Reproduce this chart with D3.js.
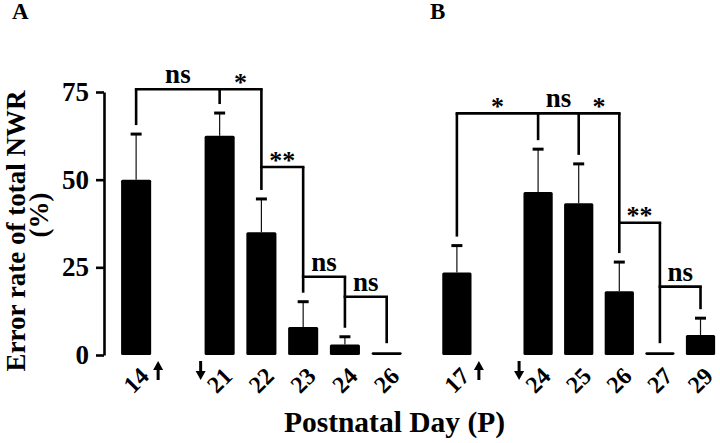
<!DOCTYPE html>
<html>
<head>
<meta charset="utf-8">
<script src="https://cdn.jsdelivr.net/npm/d3@7"></script>
<style>
  body { margin: 0; background: #fff; }
  svg text { font-family: "Liberation Serif", "Times New Roman", serif; font-weight: bold; fill: #000; }
</style>
</head>
<body>
<svg id="chart"></svg>
<script>
// panel A: pups tested from P14 (arrow = cage change)
const daysA = ["14", "21", "22", "23", "24", "26"];
const meansA = [50, 62.5, 35, 8, 3, 0.8];
const semsA = [13, 6.5, 9.5, 7.2, 2.2, 0];
const compsA = [
  { from: "14", to: "21", level: 75.8, label: "ns" },
  { from: "21", to: "22", level: 75.8, label: "*" },
  { from: "22", to: "23", level: 53.6, label: "**" },
  { from: "23", to: "24", level: 22.3, label: "ns" },
  { from: "24", to: "26", level: 16.6, label: "ns" }
];

// panel B
const daysB = ["17", "24", "25", "26", "27", "29"];
const meansB = [23.5, 46.5, 43.3, 18.2, 0.8, 5.7];
const semsB = [7.7, 12.2, 11.2, 8.3, 0, 4.8];
const compsB = [
  { from: "17", to: "24", level: 68.9, label: "*" },
  { from: "24", to: "25", level: 68.9, label: "ns" },
  { from: "25", to: "26", level: 68.9, label: "*" },
  { from: "26", to: "27", level: 37.7, label: "**" },
  { from: "27", to: "29", level: 19.5, label: "ns" }
];

const yTicks = [0, 25, 50, 75];

const width = 720;
const height = 443;
const svg = d3.select("#chart").attr("width", width).attr("height", height);

const y = d3.scaleLinear().domain([0, 75]).range([355, 92]);

function bandFor(days, range) {
  // one empty slot between the first day and the rest
  return d3.scaleBand().domain([days[0], "gap", ...days.slice(1)]).range(range).padding(0.28);
}

const xA = bandFor(daysA, [109.4, 413.4]);
const xB = bandFor(daysB, [430.9, 726.5]);

function arrow(g, x, up) {
  const top = 361, bottom = 380;
  const tip = up ? top : bottom;
  const dir = up ? 1 : -1;
  g.append("line")
    .attr("x1", x).attr("x2", x)
    .attr("y1", up ? top + 6 : top).attr("y2", up ? bottom : bottom - 6)
    .attr("stroke", "#000").attr("stroke-width", 3);
  g.append("path")
    .attr("d", `M${x},${tip}L${x - 5},${tip + dir * 9}L${x + 5},${tip + dir * 9}Z`)
    .attr("fill", "#000");
}

function drawPanel(x, days, means, sems, comps) {
  const g = svg.append("g");
  const cx = (d) => x(d) + x.bandwidth() / 2;
  const rows = days.map((d, i) => ({ day: d, mean: means[i], top: means[i] + sems[i] }));

  g.selectAll("rect.bar")
    .data(rows)
    .join("rect")
    .attr("class", "bar")
    .attr("x", (d) => x(d.day))
    .attr("y", (d) => y(d.mean))
    .attr("width", x.bandwidth())
    .attr("height", (d) => y(0) - y(d.mean))
    .attr("rx", 1.5)
    .attr("fill", "#000");

  const errs = rows.filter((d) => d.top > d.mean);
  g.selectAll("line.stem")
    .data(errs)
    .join("line")
    .attr("class", "stem")
    .attr("x1", (d) => cx(d.day)).attr("x2", (d) => cx(d.day))
    .attr("y1", (d) => y(d.mean)).attr("y2", (d) => y(d.top))
    .attr("stroke", "#111").attr("stroke-width", 1.2);
  g.selectAll("line.cap")
    .data(errs)
    .join("line")
    .attr("class", "cap")
    .attr("x1", (d) => cx(d.day) - 5.5).attr("x2", (d) => cx(d.day) + 5.5)
    .attr("y1", (d) => y(d.top)).attr("y2", (d) => y(d.top))
    .attr("stroke", "#000").attr("stroke-width", 3);

  // significance brackets
  g.selectAll("line.hbar")
    .data(comps)
    .join("line")
    .attr("class", "hbar")
    .attr("x1", (c) => cx(c.from)).attr("x2", (c) => cx(c.to))
    .attr("y1", (c) => y(c.level)).attr("y2", (c) => y(c.level))
    .attr("stroke", "#000").attr("stroke-width", 2.6).attr("stroke-linecap", "square");

  const drops = rows.map((r) => ({
    day: r.day,
    level: d3.max(comps.filter((c) => c.from === r.day || c.to === r.day), (c) => c.level),
    top: r.top
  }));
  g.selectAll("line.drop")
    .data(drops)
    .join("line")
    .attr("class", "drop")
    .attr("x1", (d) => cx(d.day)).attr("x2", (d) => cx(d.day))
    .attr("y1", (d) => y(d.level)).attr("y2", (d) => y(d.top) - 9)
    .attr("stroke", "#000").attr("stroke-width", 2.6);

  g.selectAll("text.sig")
    .data(comps)
    .join("text")
    .attr("class", "sig")
    .attr("x", (c) => (cx(c.from) + cx(c.to)) / 2)
    .attr("y", (c) => (c.label === "ns" ? y(c.level) - 6 : y(c.level) + 1.5))
    .attr("text-anchor", "middle")
    .attr("font-size", (c) => (c.label === "ns" ? 27 : 26))
    .text((c) => c.label);

  // rotated day labels
  g.selectAll("g.day")
    .data(days)
    .join("g")
    .attr("class", "day")
    .attr("transform", (d) => `translate(${cx(d) + 14},377.5)`)
    .append("text")
    .attr("transform", "rotate(-45)")
    .attr("text-anchor", "end")
    .style("font-size", "24px")
    .text((d) => d);

  arrow(g, cx(days[0]) + 22, true);
  arrow(g, cx(days[1]) - 19, false);
}

drawPanel(xA, daysA, meansA, semsA, compsA);
drawPanel(xB, daysB, meansB, semsB, compsB);

svg.append("g")
  .attr("transform", "translate(104,0)")
  .call(d3.axisLeft(y).tickValues(yTicks).tickSize(8).tickSizeOuter(0).tickPadding(7))
  .call((g) => g.selectAll("line,path").attr("stroke", "#000").attr("stroke-width", 2.6))
  .call((g) => g.selectAll("text").style("font-size", "27px"));

svg.append("text")
  .attr("transform", "translate(25,231) rotate(-90)")
  .attr("text-anchor", "middle")
  .attr("font-size", 27)
  .text("Error rate of total NWR");

svg.append("text")
  .attr("transform", "translate(48,215) rotate(-90)")
  .attr("text-anchor", "middle")
  .attr("font-size", 27)
  .text("(%)");

svg.append("text")
  .attr("x", 394.5)
  .attr("y", 432)
  .attr("text-anchor", "middle")
  .attr("font-size", 29.5)
  .text("Postnatal Day (P)");

svg.append("text").attr("x", 12).attr("y", 19).attr("font-size", 23).text("A");
svg.append("text").attr("x", 430).attr("y", 19).attr("font-size", 23).text("B");
</script>
</body>
</html>
